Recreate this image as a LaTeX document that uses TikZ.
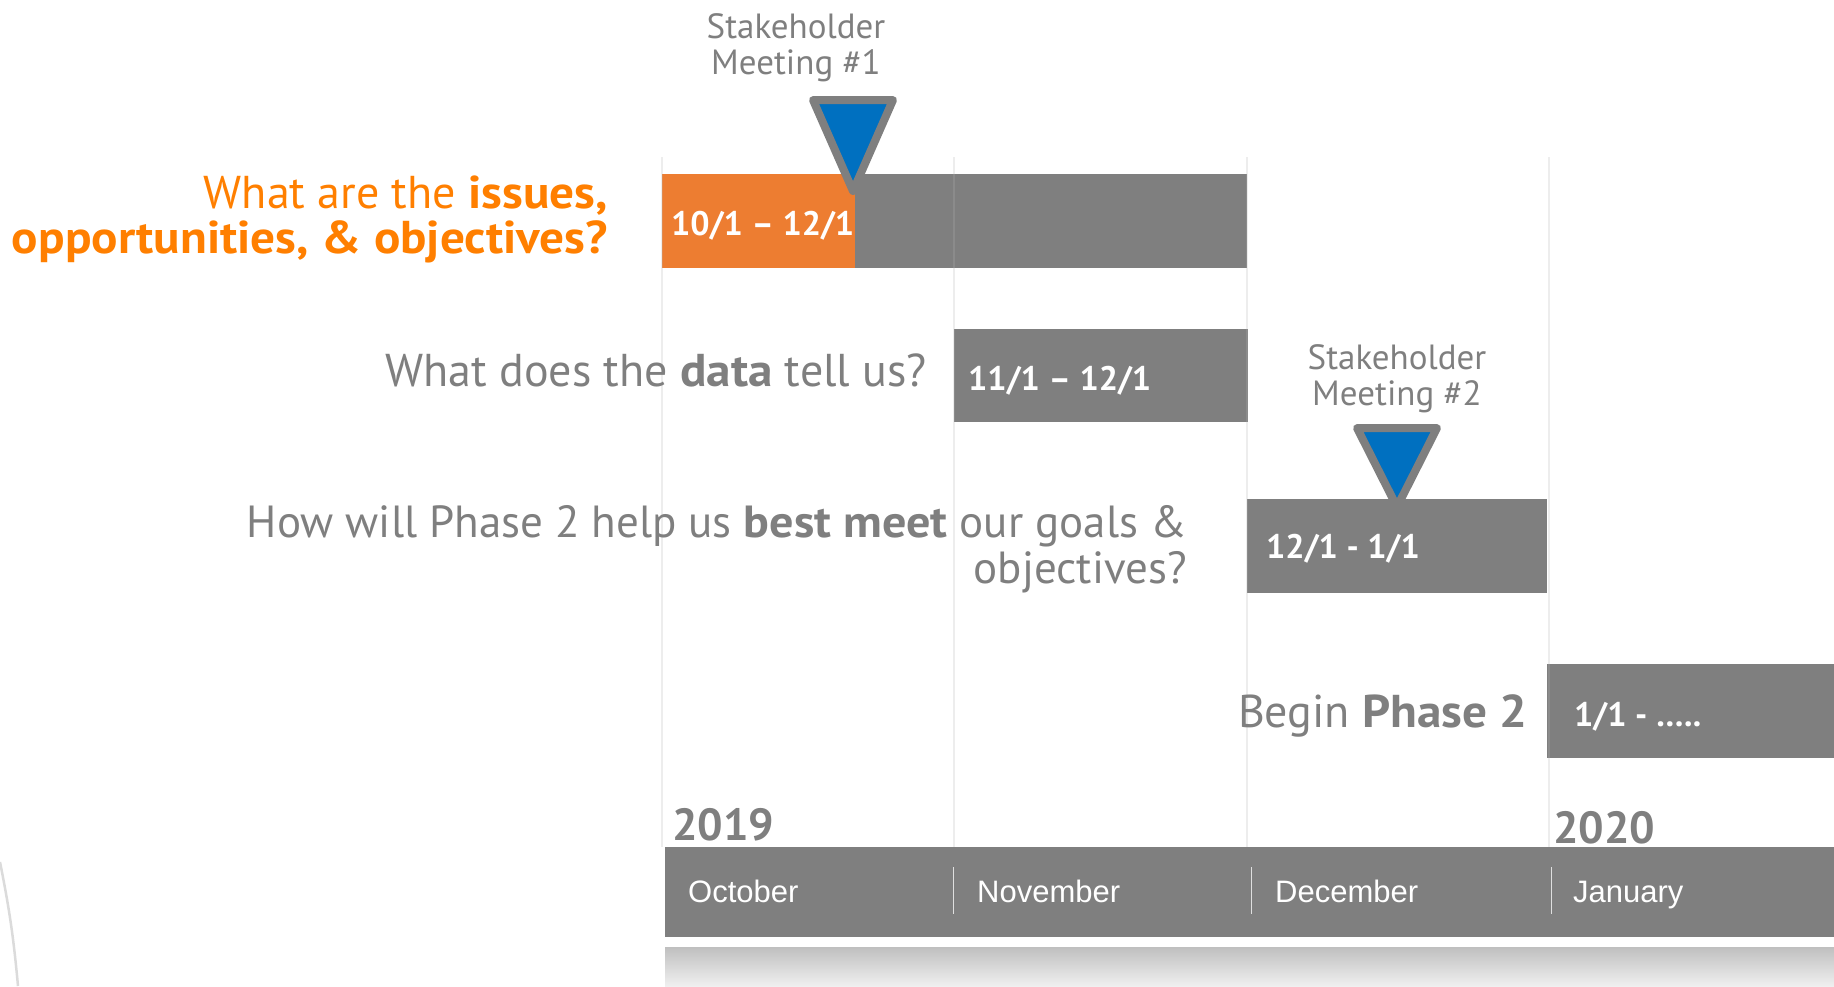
\documentclass[tikz,border=0pt]{standalone}
\usepackage{fontspec}
\setmainfont{PT Sans}
\newfontfamily\askboldfont{PT Sans Bold}[FakeStretch=1.07]
\newfontfamily\monthfont{Liberation Sans}
\usetikzlibrary{calc}
\definecolor{bargray}{RGB}{127,127,127}
\definecolor{barorange}{RGB}{237,125,49}
\definecolor{askorange}{RGB}{255,127,0}
\definecolor{meetblue}{RGB}{0,112,192}
\definecolor{gridgray}{RGB}{181,181,181}
\newcommand{\askbold}[1]{{\askboldfont #1}}
\newcommand{\meetwidth}{40}
\newcommand{\milestone}[3]{%
    \coordinate (#1) at #2;
    \filldraw[fill=meetblue, draw=bargray, line width=8pt, line join=round]
        ($(#1)+(-\meetwidth,0)$) -- ($(#1)+(\meetwidth,0)$) -- ($(#1)+(0,#3)$) -- cycle;
}

\begin{document}
\begin{tikzpicture}[x=1pt, y=-1pt,
    ask/.style={inner sep=0pt, align=right, text=bargray, font=\fontsize{46}{45}\selectfont},
    datelbl/.style={inner sep=0pt, anchor=base west, text=white, font=\bfseries\fontsize{34}{34}\selectfont},
    meetlbl/.style={inner sep=0pt, align=center, text=bargray, font=\fontsize{35}{36}\selectfont},
    yearlbl/.style={inner sep=0pt, anchor=base west, text=bargray, font=\bfseries\fontsize{45}{45}\selectfont},
    monthlbl/.style={inner sep=0pt, anchor=base west, text=white, font=\monthfont\fontsize{31}{31}\selectfont}]
\useasboundingbox (0,0) rectangle (1834,986);

% month columns at x = 662, 954, 1247, 1549

% bars
\fill[barorange] (662,174) rectangle (855,268);
\fill[bargray] (855,174) rectangle (1247,268);
\fill[bargray] (954,329) rectangle (1248,422);
\fill[bargray] (1247,499) rectangle (1547,593);
\fill[bargray] (1547,664) rectangle (1834,758);

% grid
\foreach \gx in {662, 954, 1247, 1549}
    \draw[gridgray, opacity=0.24, line width=2pt] (\gx,157) -- (\gx,847);

% month bar and its shadow
\fill[bargray] (665,847) rectangle (1834,937);
\shade[top color=black!25, bottom color=black!6] (665,947) rectangle (1834,986);
\draw[black!14, line width=2.5pt] (0,862) to[bend left=3] (18,986);

% questions (base = last line)
\node[ask, anchor=base east, text=askorange] (q1) at (608,253)
    {What are the \askbold{issues,}\\ \askbold{opportunities, \& objectives?}};
\node[ask, anchor=base east] (q2) at (927,386) {What does the \askbold{data} tell us?};
\node[ask, anchor=base east, font=\fontsize{45}{46}\selectfont] (q3) at (1187,583)
    {How will Phase 2 help us \askbold{best meet} our goals \&\\ objectives?};
\node[ask, anchor=base east] (q4) at (1528,727) {Begin \askbold{Phase 2}};

% dates
\node[datelbl] (d1) at (671,235) {10/1 – 12/1};
\node[datelbl] (d2) at (968,390) {11/1 – 12/1};
\node[datelbl] (d3) at (1266,558) {12/1 - 1/1};
\node[datelbl] (d4) at (1574,726) {1/1 - …..};

% stakeholder meetings
\milestone{m1}{(853,100)}{91}
\milestone{m2}{(1397,428)}{79}
\node[meetlbl, anchor=base] (s1) at (796,74) {Stakeholder\\ Meeting \#1};
\node[meetlbl, anchor=base] (s2) at (1397,405) {Stakeholder\\ Meeting \#2};

% years and months
\node[yearlbl] (y1) at (672,840) {2019};
\node[yearlbl] (y2) at (1553,843) {2020};
\foreach \mx/\mname in {688/October, 977/November, 1275/December, 1573/January}
    \node[monthlbl] (\mname) at (\mx,902) {\mname};
\foreach \sx in {953, 1251, 1551}
    \draw[white!75!bargray, line width=1pt] (\sx,867) -- (\sx,914);

\end{tikzpicture}
\end{document}
